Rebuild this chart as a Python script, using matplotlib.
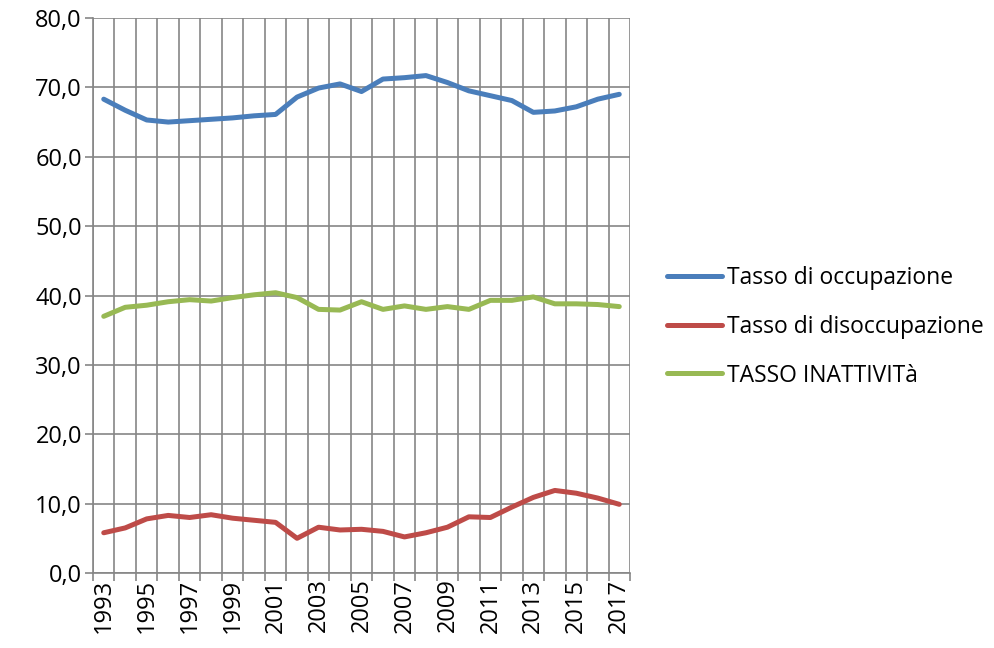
import matplotlib
matplotlib.use("Agg")
import matplotlib.pyplot as plt
from matplotlib.ticker import FuncFormatter

years = list(range(1993, 2018))
occupazione = [68.3, 66.7, 65.3, 65.0, 65.2, 65.4, 65.6, 65.9, 66.1, 68.6, 69.9, 70.5, 69.4,
               71.2, 71.4, 71.7, 70.7, 69.5, 68.8, 68.1, 66.4, 66.6, 67.2, 68.3, 69.0]
disoccupazione = [5.8, 6.5, 7.8, 8.3, 8.0, 8.4, 7.9, 7.6, 7.3, 5.0, 6.6, 6.2, 6.3,
                  6.0, 5.2, 5.8, 6.6, 8.1, 8.0, 9.5, 10.9, 11.9, 11.5, 10.8, 9.9]
inattivita = [37.0, 38.3, 38.6, 39.1, 39.4, 39.2, 39.7, 40.1, 40.4, 39.7, 38.0, 37.9, 39.1,
              38.0, 38.5, 38.0, 38.4, 38.0, 39.3, 39.3, 39.8, 38.8, 38.8, 38.7, 38.4]
labels = ["Tasso di occupazione", "Tasso di disoccupazione", "TASSO INATTIVITà"]
colors = ["#4A7EBB", "#BE4B48", "#98B954"]

plt.rcParams['font.family'] = ['Open Sans', 'DejaVu Sans']

fig = plt.figure(figsize=(9.94, 6.48), dpi=100)
ax = fig.add_axes([93/994, 75/648, (630-93)/994, (573-18)/648])

x = list(range(len(years)))
for series, lab, col in zip([occupazione, disoccupazione, inattivita], labels, colors):
    ax.plot(x, series, color=col, lw=3.6, label=lab, solid_capstyle='round',
            solid_joinstyle='round', zorder=3)

ax.set_xlim(-0.5, len(years) - 0.5)
ax.set_ylim(0, 80)
ax.set_yticks(range(0, 81, 10))
ax.yaxis.set_major_formatter(FuncFormatter(lambda v, p: f"{v:.1f}".replace('.', ',')))

bounds = [i - 0.5 for i in range(len(years) + 1)]
ax.set_xticks(bounds, minor=True)
ax.set_xticks([i for i in x if i % 2 == 0])
ax.set_xticklabels([str(years[i]) for i in x if i % 2 == 0], rotation=90)
ax.tick_params(axis='x', which='major', length=0, pad=4, labelsize=17)
ax.tick_params(axis='x', which='minor', length=6, color='#868686', width=1.2)
ax.tick_params(axis='y', length=6, color='#868686', width=1.2, labelsize=17, pad=2)

ax.grid(True, axis='y', which='major', color='#868686', lw=1.2)
ax.grid(True, axis='x', which='minor', color='#868686', lw=1.2)
ax.grid(False, axis='x', which='major')
ax.set_axisbelow(True)
for s in ['top', 'right']:
    ax.spines[s].set_visible(False)
for s in ['left', 'bottom']:
    ax.spines[s].set_color('#868686')
    ax.spines[s].set_linewidth(1.2)

handles, labs = ax.get_legend_handles_labels()
fig.legend(handles, labs, loc='upper left', bbox_to_anchor=(667/994, 1 - 266/648),
           frameon=False, fontsize=16.5, handlelength=2.4, handletextpad=0.2,
           labelspacing=1.08, borderaxespad=0, borderpad=0)

fig.savefig("out.png", dpi=100)
